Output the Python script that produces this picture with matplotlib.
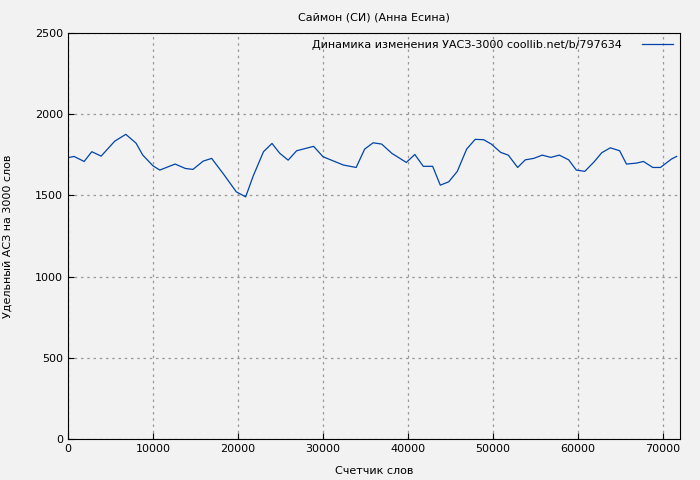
import matplotlib
matplotlib.use("Agg")
import matplotlib.pyplot as plt

x_words = [0,700,1900,2800,3900,5500,6800,8000,8800,10000,10800,12600,13800,14700,15900,16900,18300,19800,20900,21800,23000,24000,24900,25900,26900,28900,30000,32400,33900,34900,35900,36900,38100,39800,40800,41800,42900,43800,44800,45800,46900,47900,48900,49800,50900,51800,52900,53800,54800,55800,56800,57800,58900,59800,60800,61900,62800,63800,64900,65700,66900,67700,68800,69700,71000,71600]
y_vals = [1732,1740,1709,1769,1742,1834,1876,1822,1748,1682,1656,1693,1666,1660,1711,1728,1631,1522,1491,1621,1769,1820,1760,1717,1775,1802,1738,1687,1672,1785,1824,1816,1759,1703,1752,1679,1679,1563,1584,1648,1785,1845,1843,1816,1765,1748,1672,1719,1728,1748,1734,1748,1719,1656,1648,1707,1763,1793,1775,1693,1699,1709,1672,1672,1724,1740]
x_ticks = [0,10000,20000,30000,40000,50000,60000,70000]
y_ticks = [0,500,1000,1500,2000,2500]

fig = plt.figure(figsize=(7,4.8), dpi=100, facecolor='#f2f2f2')
ax = fig.add_axes([68/700, 1-439/480, 612/700, 406/480], facecolor='#f2f2f2')
ax.plot(x_words, y_vals, color='#0044aa', lw=0.9, label='Динамика изменения УАСЗ-3000 coollib.net/b/797634')
ax.set_xlim(0, 72000)
ax.set_ylim(0, 2500)
ax.set_xticks(x_ticks)
ax.set_yticks(y_ticks)
ax.grid(True, color='#999999', ls=(0,(2,3)), lw=0.9)
for s in ax.spines.values():
    s.set_color('black')
ax.tick_params(labelsize=8, direction='in', length=4)
ax.set_title('Саймон (СИ) (Анна Есина)', fontsize=8, pad=9)
ax.set_xlabel('Счетчик слов', fontsize=8, labelpad=9)
ax.set_ylabel('Удельный АСЗ на 3000 слов', fontsize=8, labelpad=16)
leg = ax.legend(loc='upper right', fontsize=8, frameon=False, markerfirst=False, handlelength=2.8, handletextpad=1.8, borderaxespad=0.2)
fig.savefig('out.png', dpi=100, facecolor='#f2f2f2')
